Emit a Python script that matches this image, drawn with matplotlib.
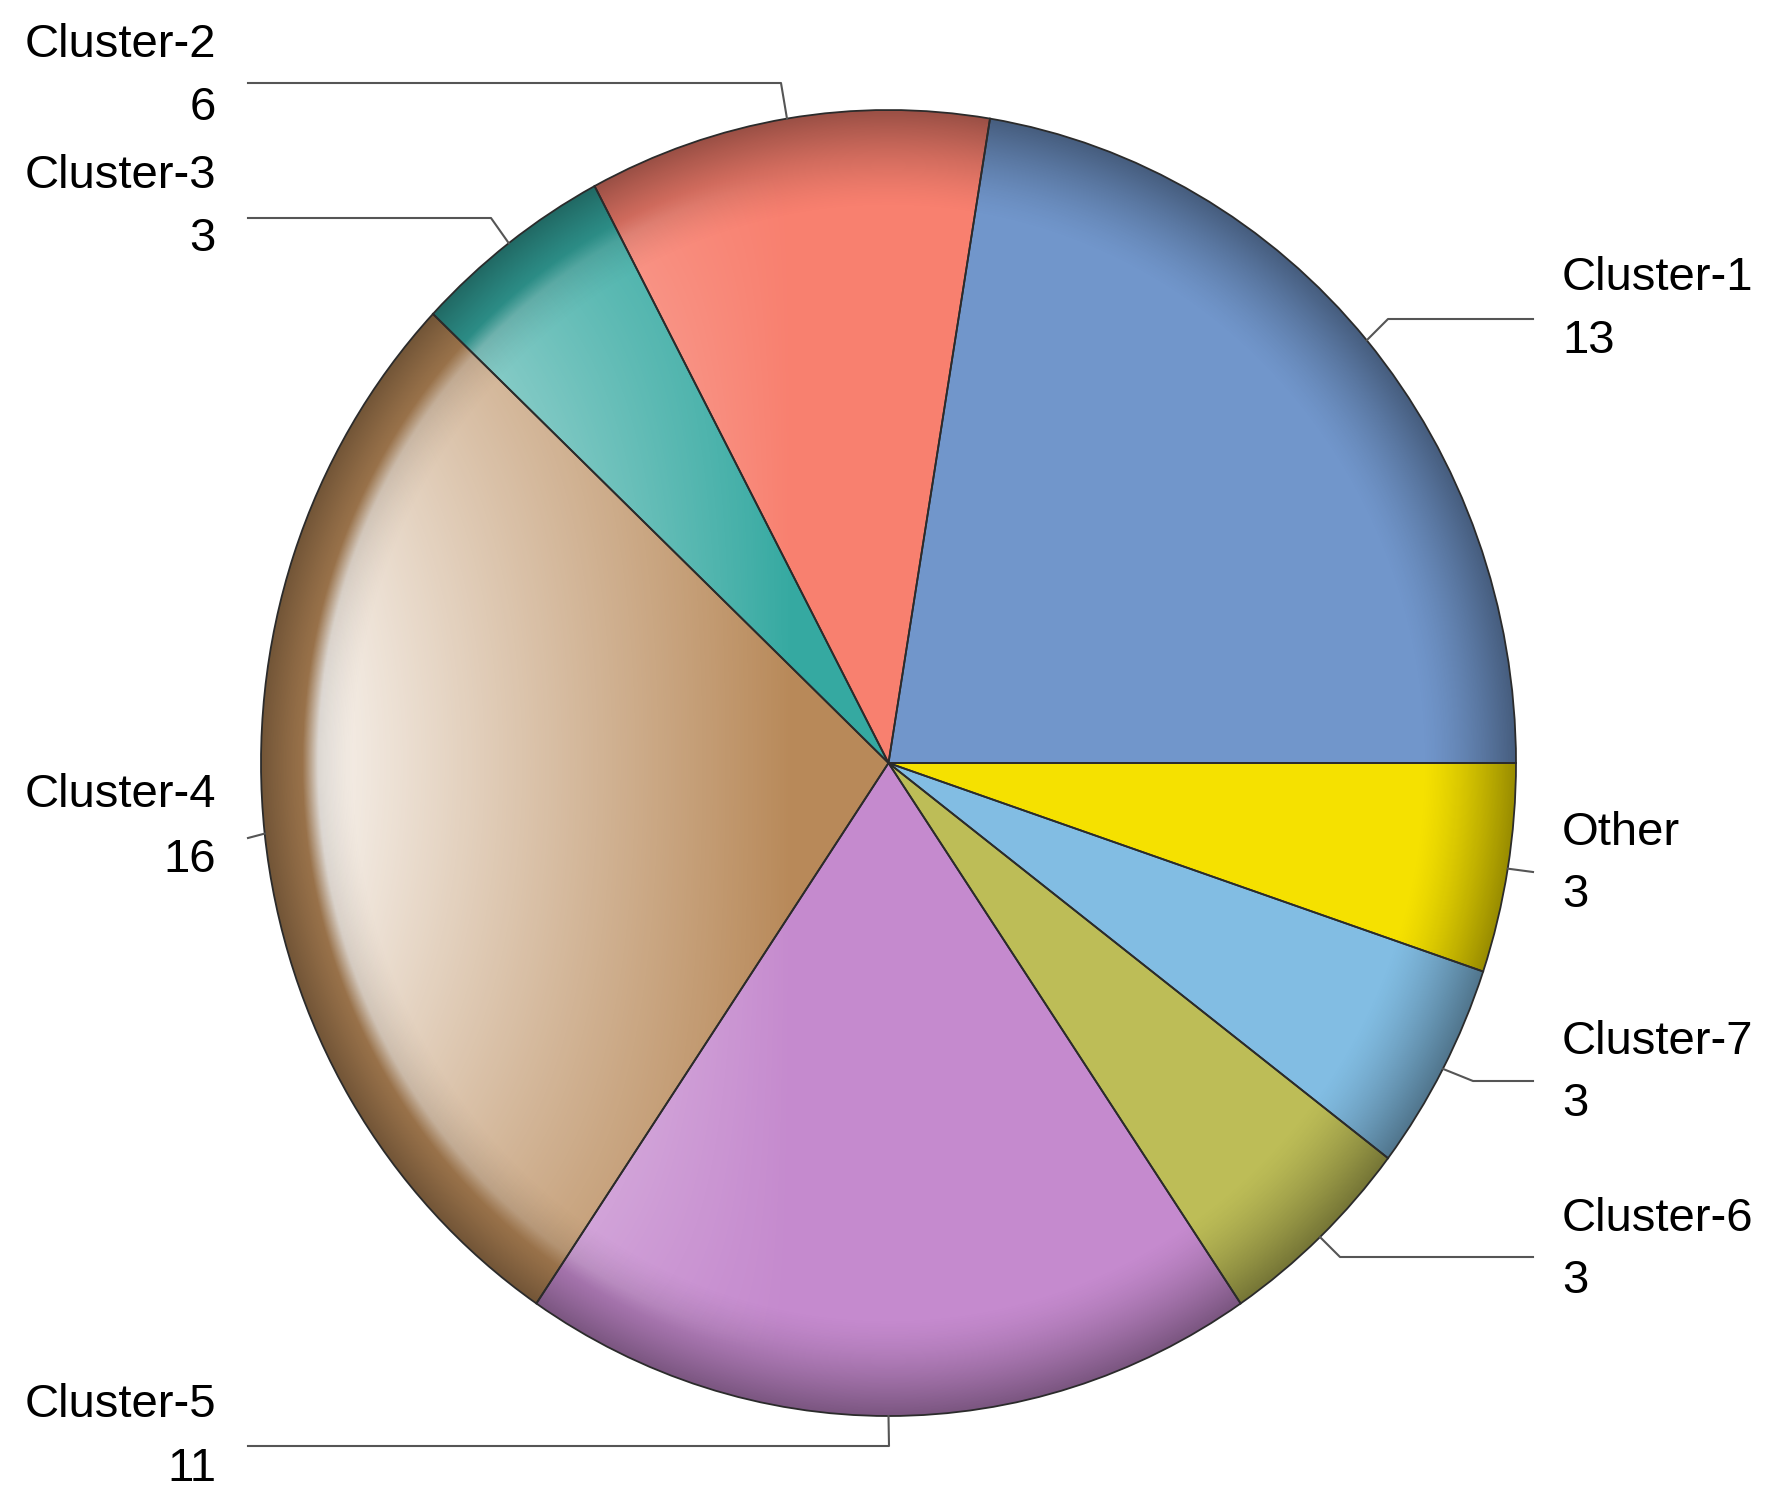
import numpy as np
import matplotlib.pyplot as plt
from matplotlib.patches import Circle

labels = ['Cluster-1', 'Cluster-2', 'Cluster-3', 'Cluster-4',
          'Cluster-5', 'Cluster-6', 'Cluster-7', 'Other']
values = [13, 6, 3, 16, 11, 3, 3, 3]
colors = ['#7196CB', '#F8806F', '#35A9A1', '#B88959',
          '#C58ACE', '#BDBD57', '#82BDE3', '#F5E100']

W, H = 1781, 1509
plt.rcParams['font.family'] = ['Liberation Sans', 'DejaVu Sans']

fig = plt.figure(figsize=(W / 100, H / 100), dpi=100)
ax = fig.add_axes([261 / W, (H - 1416) / H, 1255 / W, 1306 / H])

wedges, _ = ax.pie(values, colors=colors, startangle=0, counterclock=True,
                   radius=1, wedgeprops=dict(linewidth=0))

# glossy shading: white highlight on the left, darker rim
n = 900
xs = np.linspace(-1, 1, n)
X, Y = np.meshgrid(xs, xs)
R = np.hypot(X, Y)
hl = np.clip((-X - 0.15) / 0.75, 0, 1) * 0.88
hl *= np.clip(1 - Y ** 2, 0, 1) ** 0.8
hl *= np.clip((0.935 - R) / 0.025, 0, 1)
white = np.zeros((n, n, 4))
white[..., :3] = 1
white[..., 3] = hl
dark = np.zeros((n, n, 4))
dark[..., 3] = np.clip((R - 0.85) / 0.15, 0, 1) ** 1.4 * 0.38

for img in (white, dark):
    im = ax.imshow(img, extent=[-1, 1, -1, 1], origin='lower', zorder=3,
                   aspect='auto', interpolation='bilinear')
    im.set_clip_path(Circle((0, 0), 1, transform=ax.transData))

# outlines on top
ax.pie(values, colors=['none'] * len(values), startangle=0, counterclock=True,
       radius=1, wedgeprops=dict(edgecolor='#2b2b2b', linewidth=1.3, zorder=4))

ax.set_aspect('auto')
ax.set_xlim(-1, 1)
ax.set_ylim(-1, 1)
ax.axis('off')

# label layout in figure pixels: (text x, name y, value y, ha, leader points)
layout = {
    'Cluster-1': (1562, 278, 341, 'left', [(1388, 319), (1533, 319)]),
    'Cluster-2': (216, 45, 108, 'right', [(781, 83), (248, 83)]),
    'Cluster-3': (216, 176, 239, 'right', [(491, 218), (248, 218)]),
    'Cluster-4': (216, 795, 860, 'right', [(248, 838)]),
    'Cluster-5': (216, 1405, 1469, 'right', [(889, 1446), (248, 1446)]),
    'Cluster-6': (1562, 1219, 1281, 'left', [(1340, 1257), (1533, 1257)]),
    'Cluster-7': (1562, 1042, 1104, 'left', [(1473, 1081), (1533, 1081)]),
    'Other': (1562, 833, 895, 'left', [(1533, 872)]),
}

inv = ax.transData.inverted()
for w, lab, val in zip(wedges, labels, values):
    tx, y1, y2, ha, pts = layout[lab]
    mid = np.deg2rad((w.theta1 + w.theta2) / 2)
    line = [(np.cos(mid), np.sin(mid))]
    for px, py in pts:
        line.append(tuple(inv.transform((px, H - py))))
    line = np.array(line)
    ax.plot(line[:, 0], line[:, 1], color='#555555', lw=1.5, clip_on=False, zorder=5)
    fig.text(tx / W, 1 - y1 / H, lab, ha=ha, va='center', fontsize=34)
    fig.text(tx / W, 1 - y2 / H, str(val), ha=ha, va='center', fontsize=34)

fig.savefig('out.png', dpi=100)
